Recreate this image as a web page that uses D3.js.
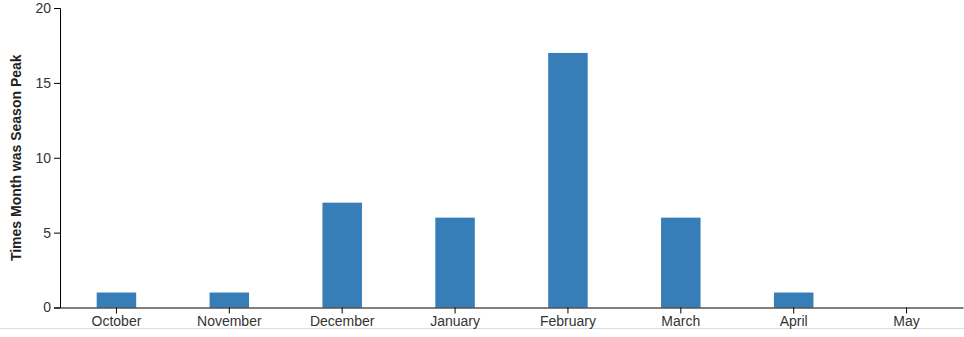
<!DOCTYPE html>
<html>
<head>
<meta charset="utf-8">
<script src="https://d3js.org/d3.v7.min.js"></script>
<style>
  body { margin: 0; background: #fff; }
  .axis text { font-family: Arial, "Liberation Sans", sans-serif; font-size: 14px; fill: #333; }
</style>
</head>
<body>
<div id="chart"></div>
<script>
// 数据
const months = ['October', 'November', 'December', 'January', 'February', 'March', 'April', 'May'];
const peakCounts = [1, 1, 7, 6, 17, 6, 1, 0];
const yTicks = [0, 5, 10, 15, 20];

const width = 964;
const height = 337;
const margin = {top: 8, right: 1, bottom: 30, left: 60};
const innerW = width - margin.left - margin.right;
const innerH = 307.5 - margin.top;

const svg = d3.select('#chart')
    .append('svg')
    .attr('width', width)
    .attr('height', height);

// 底部灰色分隔线
svg.append('line')
    .attr('x1', 0).attr('x2', width)
    .attr('y1', 328.5).attr('y2', 328.5)
    .attr('stroke', '#ddd')
    .attr('stroke-width', 1);

const g = svg.append('g')
    .attr('transform', `translate(${margin.left},${margin.top})`);

const x = d3.scaleBand()
    .domain(months)
    .range([0, innerW])
    .paddingInner(0.65)
    .paddingOuter(0.325);

const y = d3.scaleLinear()
    .domain([0, 20])
    .range([innerH, 0]);

// 柱子
g.selectAll('rect')
    .data(months)
    .join('rect')
    .attr('x', (d, i) => x(d))
    .attr('y', (d, i) => y(peakCounts[i]))
    .attr('width', x.bandwidth())
    .attr('height', (d, i) => innerH - y(peakCounts[i]))
    .attr('fill', '#377eb8');

// 坐标轴
g.append('g')
    .attr('class', 'axis')
    .attr('transform', `translate(0,${innerH})`)
    .call(d3.axisBottom(x).tickSizeOuter(0));

g.append('g')
    .attr('class', 'axis')
    .call(d3.axisLeft(y).tickValues(yTicks));

g.selectAll('.axis path, .axis line').attr('stroke', '#000');

// y轴标题
svg.append('text')
    .attr('transform', `translate(21,${margin.top + innerH / 2}) rotate(-90)`)
    .attr('text-anchor', 'middle')
    .style('font-family', 'Arial, "Liberation Sans", sans-serif')
    .style('font-size', '14px')
    .style('font-weight', 'bold')
    .attr('fill', '#222')
    .text('Times Month was Season Peak');
</script>
</body>
</html>
